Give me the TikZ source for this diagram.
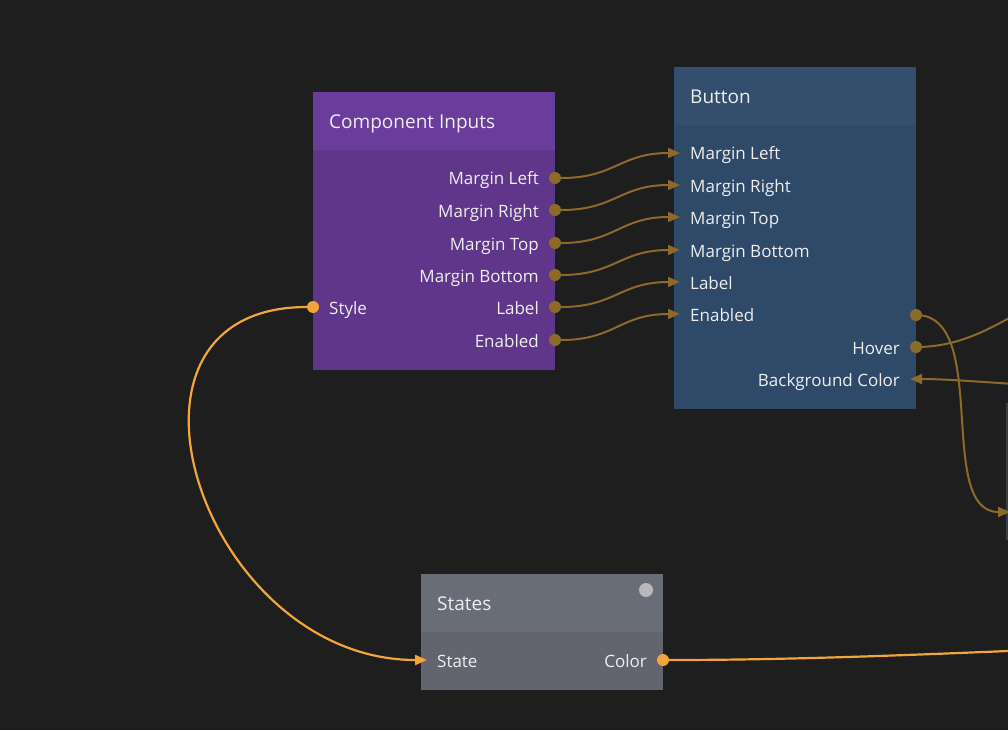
\documentclass[tikz,border=0pt]{standalone}
\usepackage{fontspec}
\setmainfont{Open Sans}
\usetikzlibrary{arrows.meta,positioning}
\definecolor{canvasbg}{HTML}{1E1E1E}
\definecolor{inpurple}{HTML}{5F3689}
\definecolor{inpurplehd}{HTML}{6A3C9C}
\definecolor{btnblue}{HTML}{2F4968}
\definecolor{btnbluehd}{HTML}{344E6D}
\definecolor{stgray}{HTML}{62656F}
\definecolor{stgrayhd}{HTML}{696D78}
\definecolor{edgegray}{HTML}{3B3E45}
\definecolor{wiregold}{HTML}{8C6A2A}
\definecolor{wireorange}{HTML}{F2A63A}
\definecolor{labelwhite}{HTML}{EEEEEE}

\begin{document}
\begin{tikzpicture}[
  x=1pt,y=-1pt,
  box/.style={inner sep=0pt,anchor=north west,minimum width=242pt},
  head/.style={inner sep=0pt,anchor=north west,minimum width=242pt,minimum height=58pt},
  title/.style={anchor=west,text=labelwhite,inner sep=0pt,text height=15pt,text depth=0pt,font=\fontsize{19pt}{22pt}\selectfont},
  port/.style={text=labelwhite,inner sep=0pt,text height=14pt,text depth=0pt,font=\fontsize{17pt}{20pt}\selectfont},
  dot/.style={circle,fill=wiregold,minimum size=12pt,inner sep=0pt},
  odot/.style={circle,fill=wireorange,minimum size=12pt,inner sep=0pt},
  wire/.style={-{Triangle[length=12pt,width=10pt]},line width=2pt,wiregold},
  owire/.style={-{Triangle[length=12pt,width=10pt]},line width=2.2pt,wireorange},
  plain/.style={line width=2pt,wiregold}
]
  \useasboundingbox (0,0) rectangle (1008,730);
  \clip (0,0) rectangle (1008,730);
  \fill[canvasbg] (0,0) rectangle (1008,730);

  % component inputs
  \node[box,fill=inpurple,minimum height=278pt] (ci) at (313,92) {};
  \node[head,fill=inpurplehd] (ciHead) at (ci.north west) {};
  \node[title] (ciTitle) at ([xshift=16pt]ciHead.west) {Component Inputs};
  \node[port,anchor=east] (ciML) at (539,178) {Margin Left};
  \node[port,anchor=east] (ciMR) at (539,210) {Margin Right};
  \node[port,anchor=east] (ciMT) at (539,243) {Margin Top};
  \node[port,anchor=east] (ciMB) at (539,275) {Margin Bottom};
  \node[port,anchor=east] (ciLb) at (539,307) {Label};
  \node[port,anchor=east] (ciEn) at (539,340) {Enabled};
  \node[port,anchor=west] (ciSt) at (329,307) {Style};

  % button
  \node[box,fill=btnblue,minimum height=342pt] (bt) at (674,67) {};
  \node[head,fill=btnbluehd] (btHead) at (bt.north west) {};
  \node[title] (btTitle) at ([xshift=16pt]btHead.west) {Button};
  \node[port,anchor=west] (btML) at (690,153) {Margin Left};
  \node[port,anchor=west] (btMR) at (690,185) {Margin Right};
  \node[port,anchor=west] (btMT) at (690,217) {Margin Top};
  \node[port,anchor=west] (btMB) at (690,250) {Margin Bottom};
  \node[port,anchor=west] (btLb) at (690,282) {Label};
  \node[port,anchor=west] (btEn) at (690,314) {Enabled};
  \node[port,anchor=east] (btHv) at (900,347) {Hover};
  \node[port,anchor=east] (btBg) at (900,379) {Background Color};

  % states
  \node[box,fill=stgray,minimum height=116pt] (st) at (421,574) {};
  \node[head,fill=stgrayhd] (stHead) at (st.north west) {};
  \node[title] (stTitle) at ([xshift=16pt]stHead.west) {States};
  \node[circle,fill=gray!55,minimum size=14pt,inner sep=0pt] (stLed) at (646,590) {};
  \node[port,anchor=west] (stIn) at (437,660) {State};
  \node[port,anchor=east] (stCol) at (647,660) {Color};

  % node cut off at the right edge
  \node[box,fill=edgegray,minimum width=40pt,minimum height=137pt] (nx) at (1006,403) {};

  % connectors
  \node[dot] (ciMLo) at (555,178) {}; \node[dot] (ciMRo) at (555,210) {};
  \node[dot] (ciMTo) at (555,243) {}; \node[dot] (ciMBo) at (555,275) {};
  \node[dot] (ciLbo) at (555,307) {}; \node[dot] (ciEno) at (555,340) {};
  \coordinate (btMLi) at (680,153); \coordinate (btMRi) at (680,185);
  \coordinate (btMTi) at (680,217); \coordinate (btMBi) at (680,250);
  \coordinate (btLbi) at (680,282); \coordinate (btEni) at (680,314);
  \draw[wire] (ciMLo) .. controls +(60,0) and +(-60,0) .. (btMLi);
  \draw[wire] (ciMRo) .. controls +(60,0) and +(-60,0) .. (btMRi);
  \draw[wire] (ciMTo) .. controls +(60,0) and +(-60,0) .. (btMTi);
  \draw[wire] (ciMBo) .. controls +(60,0) and +(-60,0) .. (btMBi);
  \draw[wire] (ciLbo) .. controls +(60,0) and +(-60,0) .. (btLbi);
  \draw[wire] (ciEno) .. controls +(60,0) and +(-60,0) .. (btEni);

  \coordinate (nxIn) at (1010,512);
  \coordinate (hvEnd) at (1110,285);
  \coordinate (bgSrc) at (1070,386);
  \coordinate (btBgi) at (910,379);
  \draw[wire] (916,315) .. controls +(75,0) and +(-75,0) .. (nxIn);
  \draw[plain] (916,347) .. controls +(80,0) and +(-80,0) .. (hvEnd);
  \draw[wire] (bgSrc) .. controls +(-50,0) and +(50,0) .. (btBgi);
  \node[dot] (btEno) at (916,315) {};
  \node[dot] (btHvo) at (916,347) {};

  \node[odot] (ciSto) at (313,307) {};
  \coordinate (stInI) at (427,660);
  \draw[owire] (ciSto) .. controls +(-225,0) and +(-225,0) .. (stInI);
  \node[odot] (stColo) at (663,660) {};
  \coordinate (colEnd) at (1400,640);
  \draw[line width=2.2pt,wireorange] (stColo) .. controls +(250,0) and +(-250,0) .. (colEnd);
\end{tikzpicture}
\end{document}
